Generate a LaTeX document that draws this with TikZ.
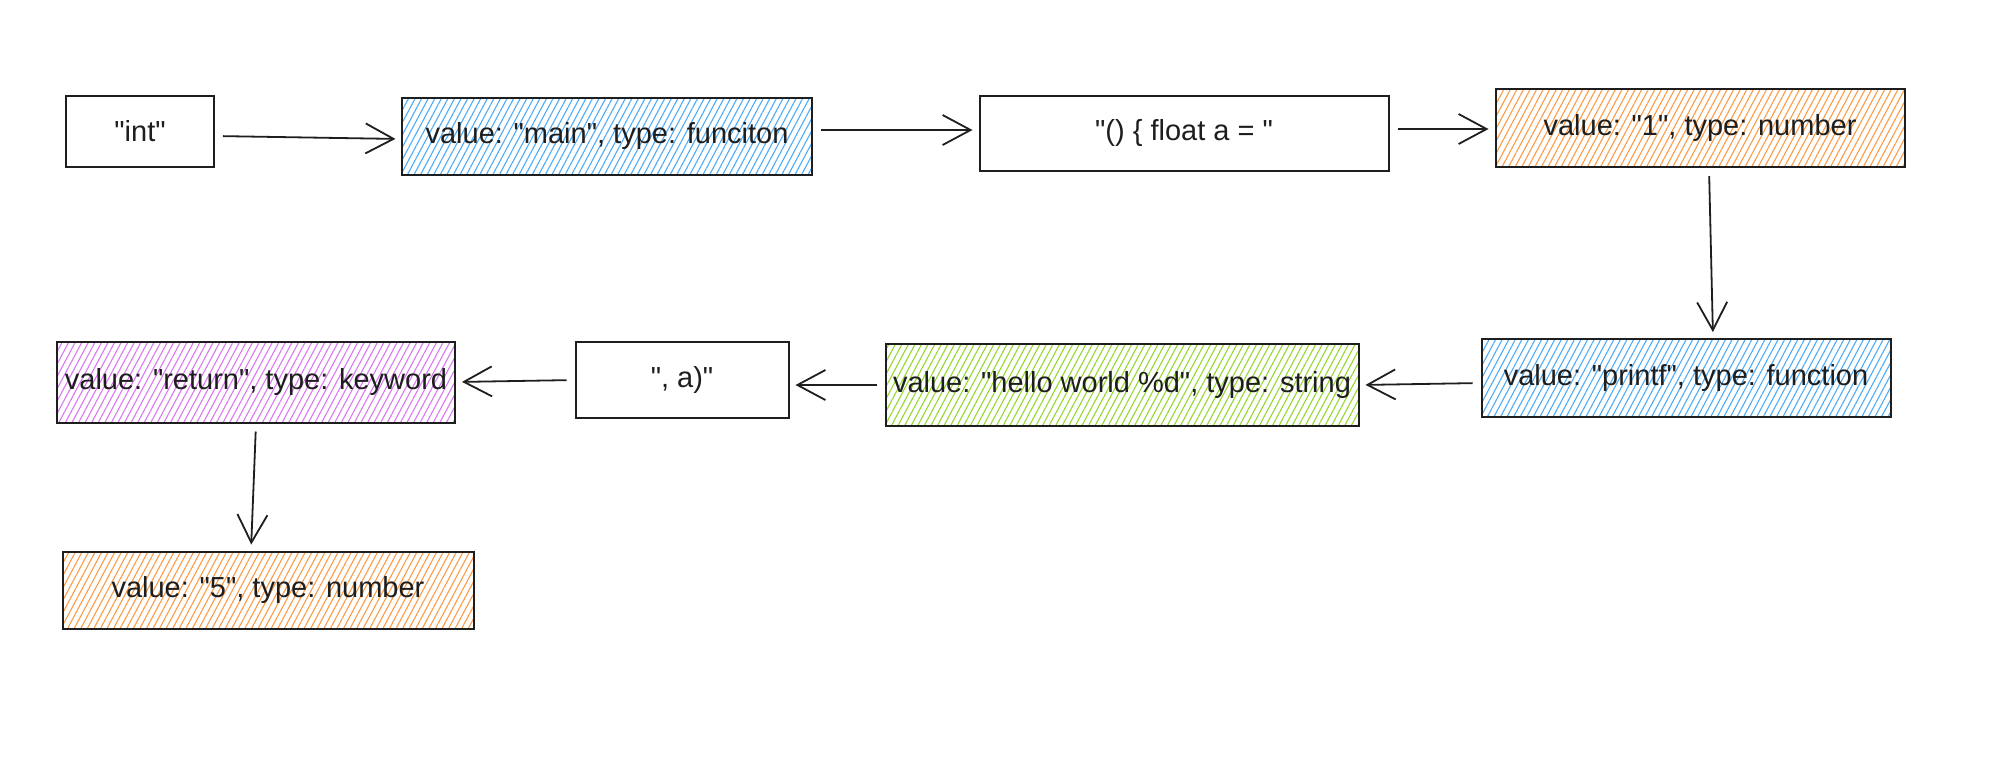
\documentclass[tikz,border=0pt]{standalone}
\usepackage{fontspec}
\newfontfamily\tokfont{Liberation Sans}
\usetikzlibrary{arrows.meta,patterns.meta}
\definecolor{ink}{HTML}{1E1E1E}
\definecolor{hblue}{HTML}{4DABF7}
\definecolor{horange}{HTML}{FD9A44}
\definecolor{hgreen}{HTML}{94D82D}
\definecolor{hpurple}{HTML}{DA77F2}
\tikzset{
  tok/.style 2 args={draw=ink, line width=1pt, inner sep=0pt, text=ink,
    font=\tokfont\fontsize{14.5}{17}\selectfont,
    minimum width=#1*0.5pt, minimum height=#2*0.5pt},
  hatch/.style={pattern={Lines[angle=62,distance=2.9pt,line width=0.55pt]}, pattern color=#1},
  conn/.style={draw=ink, line width=0.9pt, shorten <=4pt, shorten >=3pt,
    -{Straight Barb[length=14pt,width=15pt,line width=0.9pt]}}
}
\begin{document}
\begin{tikzpicture}[x=0.5pt,y=-0.5pt]
\useasboundingbox (0,0) rectangle (2000,768);
\node[tok={148}{71}] (int) at (140,131) {"int"};
\node[tok={410}{77}, hatch=hblue] (main) at (607,136) {value: "main", type: funciton};
\node[tok={409}{75}] (float) at (1184,133) {"() \{ float a = "};
\node[tok={409}{78}, hatch=horange] (one) at (1700,128) {value: "1", type: number};
\node[tok={409}{78}, hatch=hblue] (printf) at (1686,378) {value: "printf", type: function};
\node[tok={473}{82}, hatch=hgreen] (hello) at (1122,385) {value: "hello world \%d", type: string};
\node[tok={213}{76}] (comma) at (682,380) {", a)"};
\node[tok={398}{81}, hatch=hpurple] (ret) at (256,382) {value: "return", type: keyword};
\node[tok={411}{77}, hatch=horange] (five) at (268,590) {value: "5", type: number};

\draw[conn] ([yshift=-2.5pt]int.east) -- ([yshift=-1.5pt]main.west);
\draw[conn] ([yshift=3pt]main.east) -- ([yshift=1.5pt]float.west);
\draw[conn] ([yshift=2pt]float.east) -- ([yshift=-0.5pt]one.west);
\draw[conn] ([xshift=4.5pt]one.south) -- ([xshift=13.5pt]printf.north);
\draw[conn] ([yshift=-2.5pt]printf.west) -- (hello.east);
\draw[conn] (hello.west) -- ([yshift=-2.5pt]comma.east);
\draw[conn] (comma.west) -- (ret.east);
\draw[conn] (ret.south) -- ([xshift=-8.5pt]five.north);
\end{tikzpicture}
\end{document}
